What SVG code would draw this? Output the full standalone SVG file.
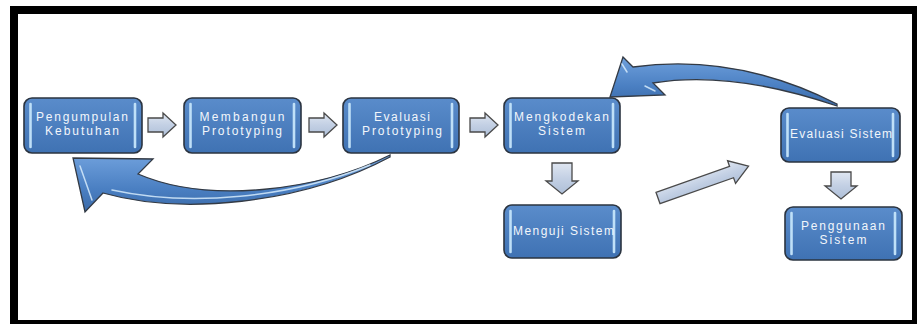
<svg xmlns="http://www.w3.org/2000/svg" width="917" height="324" viewBox="0 0 917 324">
<defs>
<linearGradient id="nodeFill" x1="0" y1="0" x2="0" y2="1">
<stop offset="0" stop-color="#5a8ccb"/>
<stop offset="1" stop-color="#3f72b3"/>
</linearGradient>
<linearGradient id="smallFill" x1="0" y1="0" x2="0" y2="1">
<stop offset="0" stop-color="#dfe6f1"/>
<stop offset="0.5" stop-color="#c3d0e4"/>
<stop offset="1" stop-color="#aebfd8"/>
</linearGradient>
<linearGradient id="curveFill" x1="0" y1="0" x2="0" y2="1">
<stop offset="0" stop-color="#6fa0dc"/>
<stop offset="0.6" stop-color="#4a7fc2"/>
<stop offset="1" stop-color="#3a6aa8"/>
</linearGradient>
<style>
.box{fill:url(#nodeFill);stroke:#2b3440;stroke-width:1.6}
.bar{stroke:#bfe0f8;stroke-width:2.6;stroke-linecap:round}
.lbl{font-family:"Liberation Sans",Arial,sans-serif;font-size:12px;fill:#f2f6fb;text-anchor:middle}
.small{fill:url(#smallFill);stroke:#4a4a4a;stroke-width:1.3;stroke-linejoin:miter}
.curve{fill:url(#curveFill);stroke:#333a44;stroke-width:1.3;stroke-linejoin:miter}
.hl{fill:none;stroke:#d6ebfb;stroke-width:1.5;stroke-linecap:round;opacity:0.85}
</style>
</defs>
<rect x="0" y="0" width="917" height="324" fill="#ffffff"/>
<path d="M10,6 H917 V324 H10 Z M18,14 V320 H912 V14 Z" fill="#000000" fill-rule="evenodd"/>

<g id="connectors">
<path class="small" transform="translate(148,125)" d="M0,-7 H15 V-12 L28,0 L15,12 V7 H0 Z"/>
<path class="small" transform="translate(309,125)" d="M0,-7 H15 V-12 L28,0 L15,12 V7 H0 Z"/>
<path class="small" transform="translate(470,125)" d="M0,-7 H15 V-12 L28,0 L15,12 V7 H0 Z"/>
<path class="small" transform="translate(562,163)" d="M-10,0 V18 H-16 L0,31 L16,18 H10 V0 Z"/>
<path class="small" transform="translate(841,172)" d="M-10,0 V14 H-16 L0,27 L16,14 H10 V0 Z"/>
<path class="small" transform="translate(658,198) rotate(-19.4)" d="M0,-6 H78 V-12 L96,0 L78,12 V6 H0 Z"/>
<path class="curve" d="M390,155 C320,190 210,205 138,174 L153,159 L73,158 L85,212 L103,193 C180,215 300,205 390,157 Z"/>
<path class="hl" d="M112,190 C190,207 290,198 370,165"/>
<path class="hl" d="M80,166 L92,200"/>
<path class="curve" d="M837,104 C790,80 720,55 633,67 L623,57 L610,97 L665,95 L653,83 C720,72 790,90 837,106 Z"/>
<path class="hl" d="M622,64 L627,72"/>
<path class="hl" d="M645,86 L655,91"/>
</g>

<g id="n1">
<rect class="box" x="24" y="98" width="118" height="55" rx="8"/>
<line class="bar" x1="30.5" y1="104" x2="30.5" y2="147"/>
<line class="bar" x1="135" y1="104" x2="135" y2="147"/>
<text class="lbl" x="82" y="121" textLength="92" lengthAdjust="spacing">Pengumpulan</text>
<text class="lbl" x="82" y="135" textLength="74" lengthAdjust="spacing">Kebutuhan</text>
</g>
<g id="n2">
<rect class="box" x="184" y="98" width="117" height="55" rx="8"/>
<line class="bar" x1="190.5" y1="104" x2="190.5" y2="147"/>
<line class="bar" x1="294" y1="104" x2="294" y2="147"/>
<text class="lbl" x="242" y="121" textLength="85" lengthAdjust="spacing">Membangun</text>
<text class="lbl" x="242" y="135" textLength="80" lengthAdjust="spacing">Prototyping</text>
</g>
<g id="n3">
<rect class="box" x="343" y="98" width="116" height="55" rx="8"/>
<line class="bar" x1="349.5" y1="104" x2="349.5" y2="147"/>
<line class="bar" x1="452" y1="104" x2="452" y2="147"/>
<text class="lbl" x="402" y="121" textLength="56" lengthAdjust="spacing">Evaluasi</text>
<text class="lbl" x="402" y="135" textLength="80" lengthAdjust="spacing">Prototyping</text>
</g>
<g id="n4">
<rect class="box" x="504" y="98" width="116" height="55" rx="8"/>
<line class="bar" x1="510.5" y1="104" x2="510.5" y2="147"/>
<line class="bar" x1="613" y1="104" x2="613" y2="147"/>
<text class="lbl" x="561.5" y="121" textLength="95" lengthAdjust="spacing">Mengkodekan</text>
<text class="lbl" x="561.5" y="135" textLength="47" lengthAdjust="spacing">Sistem</text>
</g>
<g id="n5">
<rect class="box" x="504" y="205" width="117" height="53" rx="8"/>
<line class="bar" x1="510.5" y1="211" x2="510.5" y2="252"/>
<line class="bar" x1="614" y1="211" x2="614" y2="252"/>
<text class="lbl" x="563.5" y="235" textLength="101" lengthAdjust="spacing">Menguji Sistem</text>
</g>
<g id="n6">
<rect class="box" x="781" y="108" width="119" height="54" rx="8"/>
<line class="bar" x1="787.5" y1="114" x2="787.5" y2="156"/>
<line class="bar" x1="893" y1="114" x2="893" y2="156"/>
<text class="lbl" x="841" y="138" textLength="102" lengthAdjust="spacing">Evaluasi Sistem</text>
</g>
<g id="n7">
<rect class="box" x="785" y="207" width="117" height="53" rx="8"/>
<line class="bar" x1="791.5" y1="213" x2="791.5" y2="254"/>
<line class="bar" x1="895" y1="213" x2="895" y2="254"/>
<text class="lbl" x="843" y="230" textLength="84" lengthAdjust="spacing">Penggunaan</text>
<text class="lbl" x="843" y="244" textLength="47" lengthAdjust="spacing">Sistem</text>
</g>
</svg>
